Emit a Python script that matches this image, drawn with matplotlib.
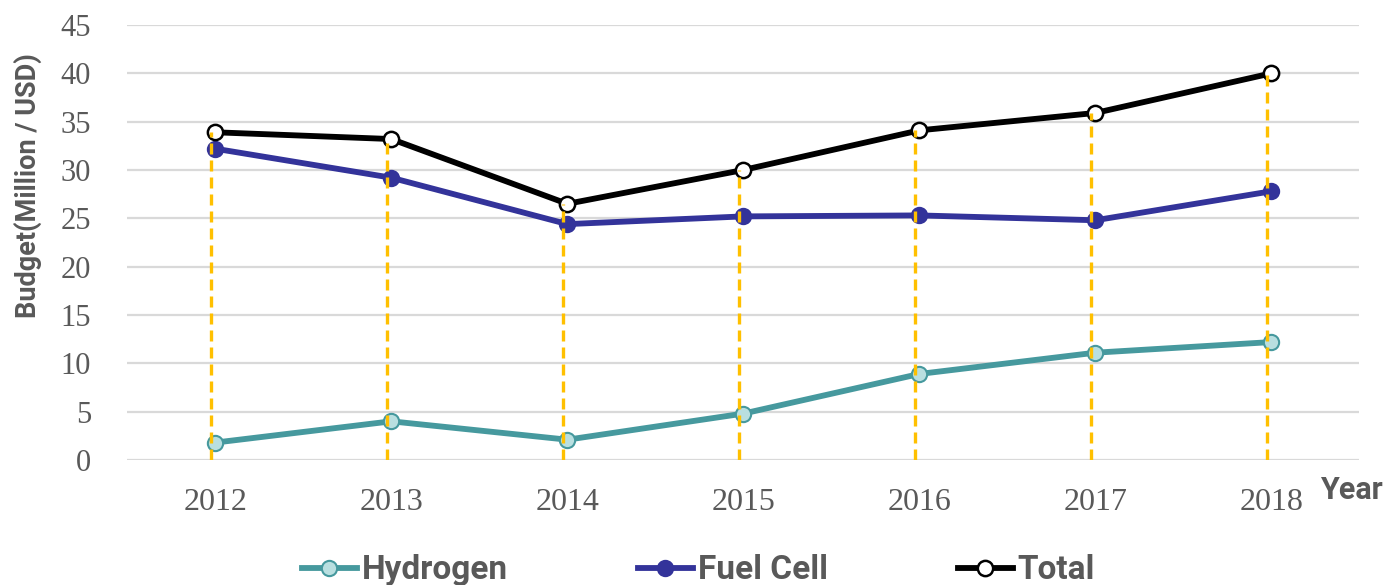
import matplotlib
matplotlib.use("Agg")
import matplotlib.pyplot as plt
import matplotlib.transforms as mtransforms
from matplotlib.lines import Line2D

years = ["2012", "2013", "2014", "2015", "2016", "2017", "2018"]
hydrogen = [1.8, 4.0, 2.1, 4.8, 8.9, 11.1, 12.2]
fuel_cell = [32.2, 29.2, 24.4, 25.2, 25.3, 24.8, 27.8]
total = [33.9, 33.2, 26.5, 30.0, 34.1, 35.9, 40.0]
y_ticks = [0, 5, 10, 15, 20, 25, 30, 35, 40, 45]

GRAY = "#595959"
TEAL = "#46999E"
TEAL_LIGHT = "#B9DFE0"
NAVY = "#33339A"
GOLD = "#FFC000"

fig = plt.figure(figsize=(13.83, 5.85), dpi=100)
ax = fig.add_axes([0.092, 0.2137, 0.891, 0.7436])

x = list(range(len(years)))

lw = 4.2
ms = 11
ax.plot(x, hydrogen, color=TEAL, lw=lw, marker="o", ms=ms, mfc=TEAL_LIGHT,
        mec=TEAL, mew=1.5, zorder=3)
ax.plot(x, fuel_cell, color=NAVY, lw=lw, marker="o", ms=ms, mfc=NAVY,
        mec=NAVY, mew=1.5, zorder=3)
ax.plot(x, total, color="black", lw=lw, marker="o", ms=ms, mfc="white",
        mec="black", mew=1.8, zorder=4)

# drop lines from Total to axis, slightly offset to the left
off = mtransforms.ScaledTranslation(-4 / 100, 0, fig.dpi_scale_trans)
ax.vlines(x, 0, total, colors=GOLD, linewidth=2.4,
          linestyles=(0, (3.3, 1.8)), transform=ax.transData + off, zorder=5)

ax.set_xlim(-0.5, len(years) - 0.5)
ax.set_ylim(0, 45)
ax.set_yticks(y_ticks)
ax.set_xticks(x)
ax.set_xticklabels(years)
ax.yaxis.grid(True, color="#D9D9D9", lw=1.6)
ax.set_axisbelow(True)
for s in ax.spines.values():
    s.set_visible(False)
ax.tick_params(length=0, labelcolor=GRAY)
ax.tick_params(axis="x", pad=20, labelsize=23)
ax.tick_params(axis="y", pad=26, labelsize=22)
for lab in ax.get_xticklabels() + ax.get_yticklabels():
    lab.set_fontfamily("Liberation Serif")

ax.set_ylabel("Budget(Million / USD)", fontsize=19.5, fontweight="bold",
              color=GRAY, fontfamily="Roboto")
ax.yaxis.set_label_coords(-0.069, 0.63)

fig.text(0.9995, 0.163, "Year", fontsize=22, fontweight="bold", color=GRAY,
         fontfamily="Roboto", ha="right", va="center")

handles = [
    Line2D([], [], color=TEAL, lw=lw, marker="o", ms=ms, mfc=TEAL_LIGHT, mec=TEAL, mew=1.5),
    Line2D([], [], color=NAVY, lw=lw, marker="o", ms=ms, mfc=NAVY, mec=NAVY, mew=1.5),
    Line2D([], [], color="black", lw=lw, marker="o", ms=ms, mfc="white", mec="black", mew=1.8),
]
leg = fig.legend(handles, ["Hydrogen", "Fuel Cell", "Total"], loc="center",
                 bbox_to_anchor=(0.505, 0.025), ncol=3, frameon=False,
                 handlelength=1.65, handletextpad=0.15, columnspacing=3.9,
                 prop={"family": "Roboto", "weight": "bold", "size": 24})
for t in leg.get_texts():
    t.set_color(GRAY)

fig.savefig("out.png", dpi=100)
